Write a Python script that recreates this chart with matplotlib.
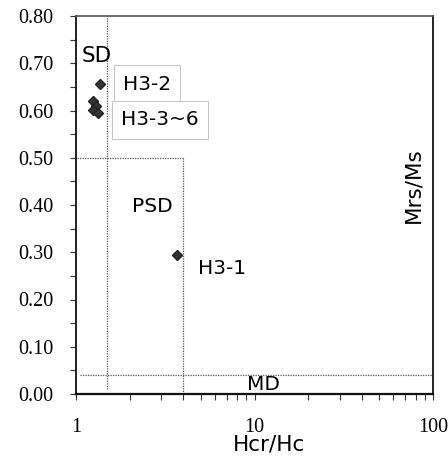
import matplotlib
matplotlib.use("Agg")
import matplotlib.pyplot as plt
from matplotlib.ticker import LogLocator, FixedLocator, MultipleLocator, FuncFormatter

# ---- data ----
samples = ["H3-1", "H3-2", "H3-3", "H3-4", "H3-5", "H3-6"]
hcr_hc = [3.68, 1.37, 1.25, 1.29, 1.25, 1.33]
mrs_ms = [0.294, 0.656, 0.620, 0.610, 0.601, 0.594]

# domain boundaries
sd_hcr_limit = 1.5
psd_hcr_limit = 4.0
sd_mrs_limit = 0.5
md_mrs_limit = 0.04

x_ticks = [1, 10, 100]
x_tick_labels = ["1", "10", "100"]
y_ticks = [0.0, 0.1, 0.2, 0.3, 0.4, 0.5, 0.6, 0.7, 0.8]

# ---- figure ----
W, H = 448, 457
fig = plt.figure(figsize=(W / 100, H / 100), dpi=100)
ax = fig.add_axes([76 / W, 1 - 394 / H, (433 - 76) / W, (394 - 16) / H])

ax.set_xscale("log")
ax.set_xlim(1, 100)
ax.set_ylim(0, 0.8)

dot = dict(color="#555555", lw=0.9, ls=(0, (1, 1)))
ax.axvline(sd_hcr_limit, ymin=0.012, ymax=1, **dot)
ax.plot([psd_hcr_limit, psd_hcr_limit], [0, sd_mrs_limit], **dot)
ax.plot([0.95, psd_hcr_limit], [sd_mrs_limit, sd_mrs_limit], clip_on=False, **dot)
ax.plot([1.05, 100], [md_mrs_limit, md_mrs_limit], **dot)

ax.plot(hcr_hc, mrs_ms, ls="none", marker="D", markersize=5.2,
        color="#333333", markeredgecolor="#222222", zorder=5)

sans = "DejaVu Sans"
lab_fs = 14.5
box = dict(boxstyle="square,pad=0.45", fc="white", ec="#c4c4c4", lw=0.7)
ax.text(1.31, 0.715, "SD", fontsize=15.5, family=sans, ha="center", va="center")
ax.text(2.50, 0.656, "H3-2", fontsize=lab_fs, family=sans, ha="center", va="center", bbox=box)
ax.text(2.96, 0.580, "H3-3~6", fontsize=lab_fs, family=sans, ha="center", va="center", bbox=box)
ax.text(2.67, 0.396, "PSD", fontsize=lab_fs, family=sans, ha="center", va="center")
ax.text(6.58, 0.265, "H3-1", fontsize=lab_fs, family=sans, ha="center", va="center")
ax.text(11.3, 0.021, "MD", fontsize=lab_fs, family=sans, ha="center", va="center")
ax.text(77.3, 0.442, "Mrs/Ms", fontsize=15.5, family=sans, ha="center", va="center",
        rotation=90)
fig.text(269 / W, 1 - 444 / H, "Hcr/Hc", fontsize=15.5, family=sans, ha="center", va="center")

# ticks
ax.xaxis.set_major_locator(FixedLocator(x_ticks))
ax.xaxis.set_minor_locator(LogLocator(base=10, subs=range(2, 10)))
ax.set_xticks(x_ticks)
ax.set_xticklabels(x_tick_labels)
ax.xaxis.set_minor_formatter(FuncFormatter(lambda v, p: ""))
ax.set_yticks(y_ticks)
ax.yaxis.set_minor_locator(MultipleLocator(0.05))
ax.yaxis.set_major_formatter(FuncFormatter(lambda v, p: f"{v:.2f}"))

serif = "Liberation Serif"
for lbl in ax.get_xticklabels() + ax.get_yticklabels():
    lbl.set_family(serif)
    lbl.set_fontsize(14.5)
ax.tick_params(axis="both", which="both", direction="out", length=4.5, width=0.8,
               color="#333333")
ax.tick_params(axis="y", which="major", pad=12)
ax.tick_params(axis="x", which="major", pad=13)

for s in ["left", "right"]:
    ax.spines[s].set_linewidth(1.3)
    ax.spines[s].set_color("#111111")
ax.spines["bottom"].set_linewidth(1.6)
ax.spines["bottom"].set_color("#111111")
ax.spines["top"].set_linewidth(1.2)
ax.spines["top"].set_color("#555555")

fig.savefig("out.png", dpi=100)
